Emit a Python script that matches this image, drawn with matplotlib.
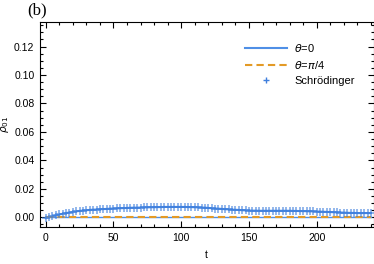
import numpy as np
import matplotlib
matplotlib.use("Agg")
import matplotlib.pyplot as plt
from matplotlib.ticker import MultipleLocator, FormatStrFormatter

# time grid
t = np.arange(0, 240.1, 2.5)

# rho_01 for theta = 0 (also Schrodinger points)
rho_theta0 = [
    -0.0005, 0.0002, 0.0008, 0.0014, 0.0020, 0.0025, 0.0030, 0.0034, 0.0038, 0.0042,
    0.0045, 0.0048, 0.0050, 0.0052, 0.0054, 0.0055, 0.0057, 0.0058, 0.0059, 0.0061,
    0.0062, 0.0063, 0.0064, 0.0065, 0.0066, 0.0067, 0.0068, 0.0068, 0.0069, 0.0070,
    0.0070, 0.0071, 0.0071, 0.0072, 0.0072, 0.0073, 0.0073, 0.0073, 0.0073, 0.0073,
    0.0073, 0.0073, 0.0072, 0.0072, 0.0071, 0.0070, 0.0069, 0.0068, 0.0066, 0.0064,
    0.0062, 0.0061, 0.0059, 0.0057, 0.0056, 0.0054, 0.0053, 0.0052, 0.0050, 0.0049,
    0.0048, 0.0047, 0.0047, 0.0046, 0.0046, 0.0046, 0.0046, 0.0046, 0.0046, 0.0046,
    0.0046, 0.0046, 0.0046, 0.0045, 0.0045, 0.0044, 0.0044, 0.0043, 0.0042, 0.0042,
    0.0041, 0.0040, 0.0039, 0.0038, 0.0037, 0.0036, 0.0035, 0.0034, 0.0033, 0.0032,
    0.0031, 0.0031, 0.0030, 0.0030, 0.0030, 0.0030, 0.0030,
]
# rho_01 for theta = pi/4 (stays at zero)
rho_theta_pi4 = [0.0] * len(t)

BLUE = "#4F8FE6"
ORANGE = "#E39A26"

plt.rcParams["font.family"] = ["Liberation Sans", "DejaVu Sans"]
plt.rcParams["mathtext.fontset"] = "dejavusans"

fig = plt.figure(figsize=(3.74, 2.64), dpi=100)
ax = fig.add_axes([0.107, 0.139, 0.892, 0.778])

ax.plot(t, rho_theta_pi4, color=BLUE, linewidth=1.0, zorder=2)
ax.plot(t, rho_theta0, color=BLUE, linewidth=1.5, label=r"$\theta$=0", zorder=3)
ax.plot(t, rho_theta_pi4, color=ORANGE, linewidth=1.5, linestyle=(0, (3.5, 2)),
        label=r"$\theta$=$\pi$/4", zorder=4)
ax.plot(t, rho_theta0, linestyle="none", marker="+", markersize=6, mew=1.3,
        color="#3F7FDD", alpha=0.6, label="Schrödinger", zorder=5)

ax.set_xlim(-4.2, 242)
ax.set_ylim(-0.007, 0.1373)
ax.xaxis.set_major_locator(MultipleLocator(50))
ax.xaxis.set_minor_locator(MultipleLocator(10))
ax.yaxis.set_major_locator(MultipleLocator(0.02))
ax.yaxis.set_minor_locator(MultipleLocator(0.005))
ax.yaxis.set_major_formatter(FormatStrFormatter("%.2f"))
ax.tick_params(which="both", direction="in", top=True, right=True, labelsize=7.5, width=0.8)
ax.tick_params(which="major", length=4, pad=4)
ax.tick_params(which="minor", length=2)
for s in ax.spines.values():
    s.set_linewidth(0.8)

ax.set_xlabel("t", fontsize=7.5, labelpad=5)
ax.set_ylabel(r"$\rho_{01}$", fontsize=7.5)
ax.yaxis.set_label_coords(-0.086, 0.5)

leg = ax.legend(loc="upper left", bbox_to_anchor=(0.585, 0.95), frameon=False,
                fontsize=8, handlelength=3.8, handletextpad=0.6, labelspacing=0.45)
for h in leg.legend_handles:
    h.set_alpha(1.0)
    if h.get_marker() == "+":
        h.set_markersize(4)
        h.set_markeredgewidth(1.0)

fig.text(0.072, 0.99, "(b)", fontsize=12, family="Liberation Serif", va="top", ha="left")

fig.savefig("out.png", dpi=100)
